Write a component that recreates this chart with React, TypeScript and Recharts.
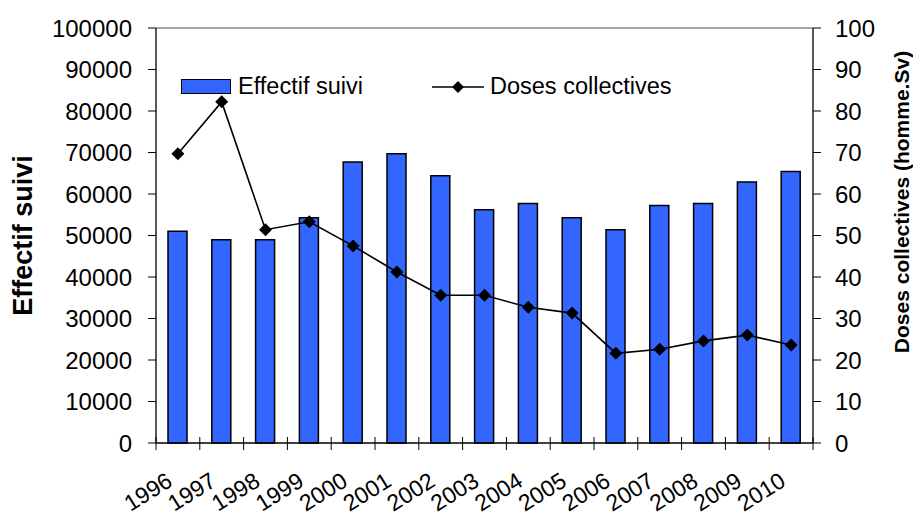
import { ComposedChart, Bar, Line, XAxis, YAxis, ReferenceLine, Legend } from 'recharts';

const years = ['1996', '1997', '1998', '1999', '2000', '2001', '2002', '2003', '2004', '2005', '2006', '2007', '2008', '2009', '2010'];
const effectif = [51000, 49000, 49000, 54300, 67700, 69700, 64400, 56200, 57700, 54300, 51400, 57200, 57700, 62900, 65400];
const doses = [69.7, 82.2, 51.4, 53.3, 47.5, 41.2, 35.6, 35.6, 32.7, 31.3, 21.6, 22.6, 24.6, 26.0, 23.6];
const leftTicks = [0, 10000, 20000, 30000, 40000, 50000, 60000, 70000, 80000, 90000, 100000];
const rightTicks = [0, 10, 20, 30, 40, 50, 60, 70, 80, 90, 100];

const data = years.map((year, i) => ({ year, effectif: effectif[i], doses: doses[i] }));

const FONT = '"Liberation Sans", Arial, sans-serif';
const BLUE = '#3366FF';

function Diamond(props: any) {
  const { cx, cy } = props;
  if (cx == null || cy == null) return null;
  const r = 6.5;
  return <polygon points={`${cx},${cy - r} ${cx + r},${cy} ${cx},${cy + r} ${cx - r},${cy}`} fill="#000" />;
}

// year label plus the tick marks on the category boundaries (Excel style)
function YearTick(props: any) {
  const { x, y, payload, index, width, visibleTicksCount } = props;
  const half = width / visibleTicksCount / 2;
  const ax = x - 4;
  const ay = y + 42;
  return (
    <g>
      <line x1={x - half} y1={y - 6} x2={x - half} y2={y + 7} stroke="#000" strokeWidth={1} />
      {index === visibleTicksCount - 1 && (
        <line x1={x + half} y1={y - 6} x2={x + half} y2={y + 7} stroke="#000" strokeWidth={1} />
      )}
      <text x={ax} y={ay} transform={`rotate(-32, ${ax}, ${ay})`} textAnchor="end" fontSize={23} fontFamily={FONT} fill="#000">
        {payload.value}
      </text>
    </g>
  );
}

function ChartLegend() {
  return (
    <div style={{ display: 'flex', alignItems: 'center', fontFamily: FONT, fontSize: 23.5, color: '#000', whiteSpace: 'nowrap' }}>
      <span style={{ display: 'inline-block', width: 48, height: 13, background: BLUE, border: '1.5px solid #000' }} />
      <span style={{ display: 'inline-block', marginLeft: 7, width: 194 }}>Effectif suivi</span>
      <svg width={52} height={16}>
        <line x1={0} y1={8} x2={52} y2={8} stroke="#000" strokeWidth={1.5} />
        <polygon points="26,2 32,8 26,14 20,8" fill="#000" />
      </svg>
      <span style={{ marginLeft: 6 }}>Doses collectives</span>
    </div>
  );
}

export default function App() {
  return (
    <div style={{ position: 'absolute', left: 0, top: 0, width: 913, height: 516, background: '#fff' }}>
      <ComposedChart width={913} height={516} data={data} margin={{ top: 28, right: 0, left: 0, bottom: 0 }} barSize={19}>
        <XAxis
          xAxisId="cat"
          dataKey="year"
          height={73}
          interval={0}
          tickSize={0}
          tickMargin={0}
          tickLine={false}
          axisLine={{ stroke: '#000', strokeWidth: 1.3 }}
          tick={<YearTick />}
        />
        <YAxis
          yAxisId="left"
          width={156}
          domain={[0, 100000]}
          ticks={leftTicks}
          interval={0}
          tickSize={8}
          tickMargin={16}
          axisLine={{ stroke: '#000', strokeWidth: 1.3 }}
          tickLine={{ stroke: '#000' }}
          tick={{ fontSize: 24, fontFamily: FONT, fill: '#000' }}
          label={{
            content: (p: any) => {
              const vb = p.viewBox;
              const lx = vb.x + 23;
              const ly = vb.y + vb.height / 2;
              return (
                <text x={lx} y={ly} transform={`rotate(-90, ${lx}, ${ly})`} textAnchor="middle" dominantBaseline="central" fontSize={27} fontWeight="bold" fontFamily={FONT} fill="#000">
                  Effectif suivi
                </text>
              );
            },
          }}
        />
        <YAxis
          yAxisId="right"
          orientation="right"
          width={100}
          domain={[0, 100]}
          ticks={rightTicks}
          interval={0}
          tickSize={8}
          tickMargin={14}
          axisLine={{ stroke: '#000', strokeWidth: 1.3 }}
          tickLine={{ stroke: '#000' }}
          tick={{ fontSize: 24, fontFamily: FONT, fill: '#000' }}
          label={{
            content: (p: any) => {
              const vb = p.viewBox;
              const lx = vb.x + 88;
              const ly = vb.y + 174;
              return (
                <text x={lx} y={ly} transform={`rotate(-90, ${lx}, ${ly})`} textAnchor="middle" dominantBaseline="central" fontSize={21} fontWeight="bold" fontFamily={FONT} fill="#000">
                  Doses collectives (homme.Sv)
                </text>
              );
            },
          }}
        />
        <ReferenceLine yAxisId="left" xAxisId="cat" y={100000} stroke="#888" strokeWidth={1.3} />
        <Legend
          layout="vertical"
          align="center"
          verticalAlign="middle"
          content={<ChartLegend />}
          wrapperStyle={{ top: 73, left: 181, width: 'auto', height: 'auto' }}
        />
        <Bar
          xAxisId="cat"
          yAxisId="left"
          dataKey="effectif"
          name="Effectif suivi"
          fill={BLUE}
          stroke="#000"
          strokeWidth={1.5}
          isAnimationActive={false}
        />
        <Line
          xAxisId="cat"
          yAxisId="right"
          type="linear"
          dataKey="doses"
          name="Doses collectives"
          stroke="#000"
          strokeWidth={1.6}
          dot={<Diamond />}
          activeDot={false}
          isAnimationActive={false}
        />
      </ComposedChart>
    </div>
  );
}
